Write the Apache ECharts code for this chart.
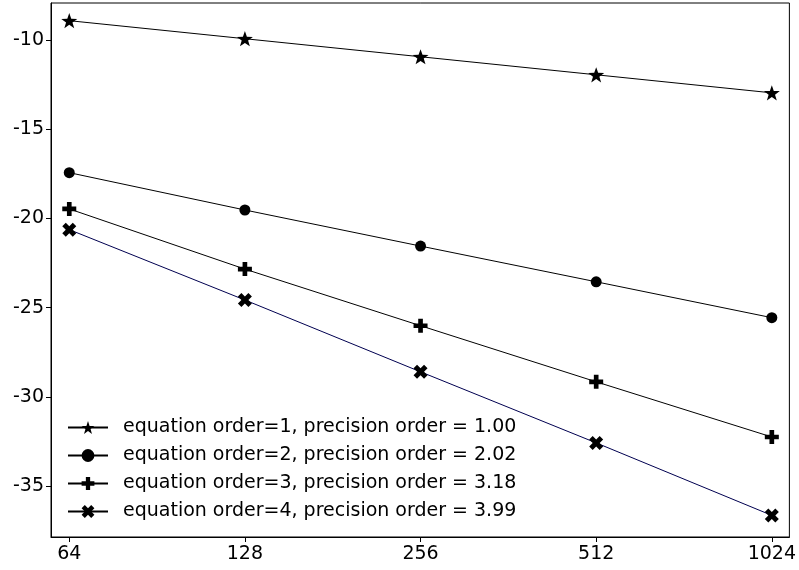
<!DOCTYPE html>
<html>
<head>
<meta charset="utf-8">
<script src="https://cdn.jsdelivr.net/npm/echarts@6/dist/echarts.min.js"></script>
<style>html,body{margin:0;padding:0;background:#fff}#c{width:799px;height:570px}</style>
</head>
<body>
<div id="c"></div>
<script>
var categories = ['64', '128', '256', '512', '1024'];
var yTicks = [-35, -30, -25, -20, -15, -10];
var seriesNames = [
  'equation order=1, precision order = 1.00',
  'equation order=2, precision order = 2.02',
  'equation order=3, precision order = 3.18',
  'equation order=4, precision order = 3.99'
];
var order1 = [-8.93, -9.94, -10.95, -11.96, -12.97];
var order2 = [-17.44, -19.53, -21.55, -23.55, -25.56];
var order3 = [-19.47, -22.84, -26.01, -29.15, -32.24];
var order4 = [-20.63, -24.57, -28.59, -32.57, -36.63];

var STAR = 'path://M0,-10L2.35,-3.24L9.51,-3.09L3.8,1.24L5.88,8.09L0,4L-5.88,8.09L-3.8,1.24L-9.51,-3.09L-2.35,-3.24Z';
var PLUS = 'path://M-2,-6H2V-2H6V2H2V6H-2V2H-6V-2H-2Z';
var XMARK = 'path://M4,-8L8,-4L4,0L8,4L4,8L0,4L-4,8L-8,4L-4,0L-8,-4L-4,-8L0,-4Z';

function pts(arr) { return arr.map(function (v, i) { return [i, v]; }); }

var font = 'DejaVu Sans';
function mk(name, data, symbol, size, color) {
  return {
    name: name, type: 'line', data: pts(data),
    symbol: symbol, symbolSize: size, symbolKeepAspect: true,
    lineStyle: { color: color, width: 1 },
    itemStyle: { color: '#000' },
    emphasis: { disabled: true },
    z: 3
  };
}

var chart = echarts.init(document.getElementById('c'), null, { renderer: 'canvas' });
chart.setOption({
  animation: false,
  backgroundColor: '#fff',
  grid: { left: 51, right: 8, top: 3, bottom: 33, show: true, borderColor: '#000', borderWidth: 1, backgroundColor: 'transparent' },
  xAxis: {
    type: 'value', min: -0.104, max: 4.1,
    splitLine: { show: false },
    axisLine: { onZero: false, lineStyle: { color: '#000', width: 1 } },
    axisTick: { show: true, length: 5, lineStyle: { color: '#000' }, customValues: [0, 1, 2, 3, 4] },
    axisLabel: {
      color: '#000', fontFamily: font, fontSize: 19, margin: 8,
      customValues: [0, 1, 2, 3, 4],
      formatter: function (v) { return categories[Math.round(v)]; }
    }
  },
  yAxis: {
    type: 'value', min: -37.84, max: -7.94,
    splitLine: { show: false },
    axisLine: { show: true, onZero: false, lineStyle: { color: '#000', width: 1 } },
    axisTick: { show: true, length: 5, lineStyle: { color: '#000' }, customValues: yTicks },
    axisLabel: { color: '#000', fontFamily: font, fontSize: 19, margin: 7, customValues: yTicks }
  },
  legend: {
    orient: 'vertical', left: 62, top: 413,
    itemWidth: 40, itemHeight: 16, itemGap: 9,
    textStyle: { color: '#000', fontFamily: font, fontSize: 19, lineHeight: 19, padding: [0, 0, 0, 10] },
    data: seriesNames.map(function (n) { return { name: n, lineStyle: { color: '#000' } }; })
  },
  series: [
    mk(seriesNames[0], order1, STAR, 16, '#000'),
    mk(seriesNames[1], order2, 'circle', 11, '#000'),
    mk(seriesNames[2], order3, PLUS, 14, '#000'),
    mk(seriesNames[3], order4, XMARK, 14, '#000050')
  ]
});
</script>
</body>
</html>
